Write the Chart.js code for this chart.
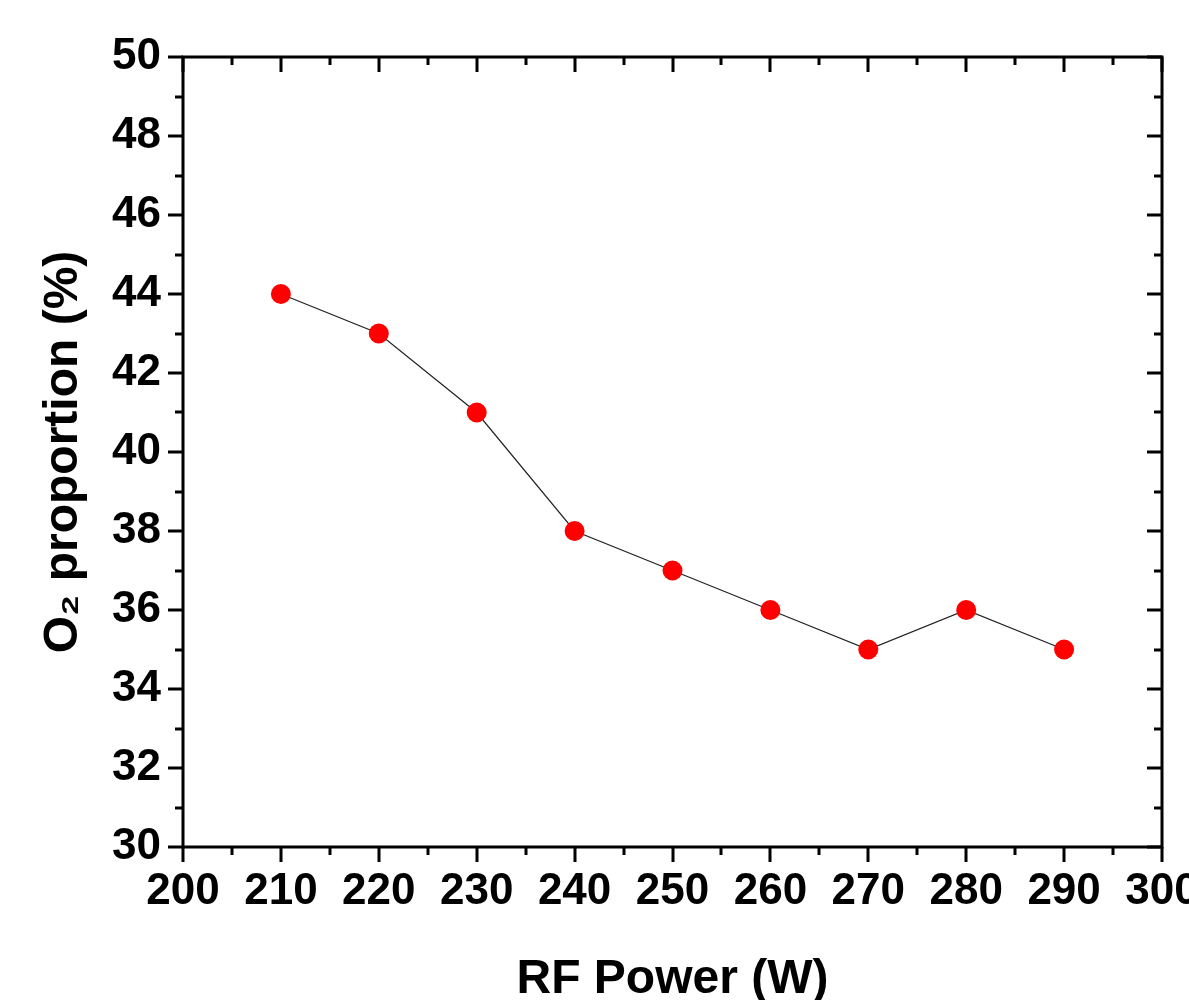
<!DOCTYPE html>
<html>
<head>
<meta charset="utf-8">
<script src="https://cdn.jsdelivr.net/npm/chart.js@4"></script>
<style>
  body { margin: 0; background: #fff; }
  #wrap { width: 1189px; height: 1000px; }
</style>
</head>
<body>
<div id="wrap"><canvas id="chart" width="1189" height="1000"></canvas></div>
<script>
// RF power vs O2 proportion
const rfPower = [210, 220, 230, 240, 250, 260, 270, 280, 290];
const o2Proportion = [44, 43, 41, 38, 37, 36, 35, 36, 35];

const xTitle = "RF Power (W)";
const yTitle = "O\u2082 proportion (%)";

const FONT = "'Liberation Sans', Arial, sans-serif";

// frame + major/minor ticks like Origin
const frameTicks = {
  id: "frameTicks",
  afterDatasetsDraw(chart) {
    const ctx = chart.ctx;
    const a = chart.chartArea;
    const xs = chart.scales.x;
    const ys = chart.scales.y;
    const major = 15, minor = 8;
    ctx.save();
    ctx.strokeStyle = "#000";
    ctx.lineWidth = 3;
    ctx.lineCap = "butt";
    ctx.beginPath();
    // x ticks: bottom outward, top inward
    for (let v = xs.min; v <= xs.max + 0.001; v += 5) {
      const px = Math.round(xs.getPixelForValue(v));
      const len = v % 10 === 0 ? major : minor;
      ctx.moveTo(px, a.bottom);
      ctx.lineTo(px, a.bottom + len);
      ctx.moveTo(px, a.top);
      ctx.lineTo(px, a.top + len);
    }
    // y ticks: left outward, right inward
    for (let v = ys.min; v <= ys.max + 0.001; v += 1) {
      const py = Math.round(ys.getPixelForValue(v));
      const len = v % 2 === 0 ? major : minor;
      ctx.moveTo(a.left, py);
      ctx.lineTo(a.left - len, py);
      ctx.moveTo(a.right, py);
      ctx.lineTo(a.right - len, py);
    }
    ctx.stroke();
    ctx.strokeRect(a.left, a.top, a.right - a.left, a.bottom - a.top);
    ctx.restore();
  },
};

const data = {
  datasets: [
    {
      data: rfPower.map((x, i) => ({ x: x, y: o2Proportion[i] })),
      borderColor: "#222",
      borderWidth: 1.2,
      pointRadius: 10,
      pointHoverRadius: 10,
      pointBackgroundColor: "#ff0000",
      pointBorderWidth: 0,
      tension: 0,
    },
  ],
};

const options = {
  responsive: false,
  animation: false,
  layout: { padding: { top: 57, right: 27, left: 0, bottom: 0 } },
  plugins: {
    legend: { display: false },
    tooltip: { enabled: false },
  },
  scales: {
    x: {
      type: "linear",
      min: 200,
      max: 300,
      grid: { display: false, drawTicks: false },
      border: { display: false },
      ticks: {
        stepSize: 10,
        autoSkip: false,
        maxRotation: 0,
        padding: 18,
        color: "#000",
        font: { family: FONT, size: 44, weight: "bold" },
      },
      title: {
        display: true,
        text: xTitle,
        color: "#000",
        font: { family: FONT, size: 48, weight: "bold", lineHeight: 0.85 },
        padding: { top: 0, bottom: 0 },
      },
      afterFit(scale) {
        scale.height = 153;
        scale.paddingLeft = 0;
        scale.paddingRight = 0;
      },
    },
    y: {
      min: 30,
      max: 50,
      grid: { display: false, drawTicks: false },
      border: { display: false },
      ticks: {
        stepSize: 2,
        padding: 22,
        color: "#000",
        font: { family: FONT, size: 44, weight: "bold" },
      },
      title: {
        display: true,
        text: yTitle,
        color: "#000",
        font: { family: FONT, size: 48, weight: "bold", lineHeight: 1 },
        padding: { top: 40, bottom: 0 },
      },
      afterFit(scale) {
        scale.width = 183;
        scale.paddingTop = 0;
        scale.paddingBottom = 0;
      },
    },
  },
};

new Chart(document.getElementById("chart").getContext("2d"), {
  type: "line",
  data: data,
  options: options,
  plugins: [frameTicks],
});
</script>
</body>
</html>
